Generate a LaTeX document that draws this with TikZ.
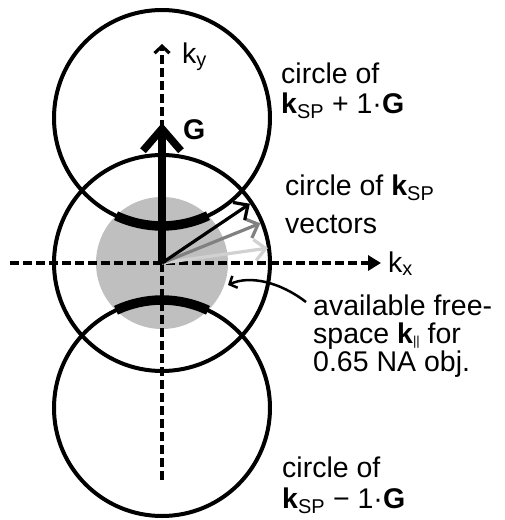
\documentclass[tikz,border=0pt]{standalone}
\usepackage{fontspec}
\setmainfont{Liberation Sans}
\usetikzlibrary{arrows.meta}
\newcommand{\parsub}{\raisebox{-2pt}{\fontsize{13}{13}\selectfont ||}}
\begin{document}
\begin{tikzpicture}[x=1pt,y=-1pt,
  circ/.style={line width=4pt},
  axis/.style={line width=4pt, dash pattern=on 9pt off 4pt},
  thickarc/.style={line width=9.5pt},
  vec/.style={line width=3.2pt,-{Straight Barb[length=11pt,width=21pt,line width=3.2pt]}},
  lbl/.style={anchor=base west, inner sep=0pt, font=\fontsize{28.5}{32}\selectfont},
]
\useasboundingbox (0,0) rectangle (504,520);
\coordinate (O) at (162,263);
\coordinate (Ct) at (162,118);
\coordinate (Cb) at (162,408);
\coordinate (Gt) at (162,123);
\coordinate (ybot) at (162,480);
\coordinate (ytop) at (162,44);
\coordinate (xl) at (10,263);
\coordinate (xr) at (381,263);
% gray disk
\fill[black!25] (O) circle[radius=66];
% circles
\draw[circ] (O) circle[radius=108];
\draw[circ] (Ct) circle[radius=108];
\draw[circ] (Cb) circle[radius=108];
% thick arcs
\draw[thickarc] (Ct) ++(64.8:108) arc[start angle=64.8, end angle=115.2, radius=108];
\draw[thickarc] (Cb) ++(244.8:108) arc[start angle=244.8, end angle=295.2, radius=108];
% axes
\draw[axis,-{Straight Barb[length=7pt,width=15pt,line width=3.2pt]}] (ybot) -- (ytop);
\draw[axis,-{Triangle[length=13pt,width=15pt]}] (xl) -- (xr);
% vectors
\path (O) ++(-8:107) coordinate (v3);
\path (O) ++(-22:106) coordinate (v2);
\path (O) ++(-34:106) coordinate (v1);
\draw[vec,black!18] (O) -- (v3);
\draw[vec,black!50] (O) -- (v2);
\draw[vec,black] (O) -- (v1);
% G arrow
\draw[line width=7.5pt,-{Straight Barb[length=22pt,width=38pt,line width=7.5pt]}] (O) -- (Gt);
% labels
\node[lbl] (ky) at (182,63) {k\textsubscript{y}};
\node[lbl] (kx) at (388,272) {k\textsubscript{x}};
\node[lbl] (Gl) at (183,139) {\textbf{G}};
\node[lbl] (a1) at (281,83) {circle of};
\node[lbl] (a2) at (281,113) {\textbf{k}\textsubscript{SP} + 1·\textbf{G}};
\node[lbl] (b1) at (285,195) {circle of \textbf{k}\textsubscript{SP}};
\node[lbl] (b2) at (285,233) {vectors};
\node[lbl] (c1) at (313,315) {available free-};
\node[lbl] (c2) at (313,343) {space \textbf{k}\parsub{} for};
\node[lbl] (c3) at (313,371) {0.65 NA obj.};
\node[lbl] (d1) at (282,477) {circle of};
\node[lbl] (d2) at (282,508) {\textbf{k}\textsubscript{SP} − 1·\textbf{G}};
% pointer
\coordinate (ps) at (306,302);
\coordinate (pe) at (228,285);
\draw[line width=2.5pt,-{Straight Barb[length=6pt,width=13pt,line width=2.5pt]}] (ps) .. controls (280,282) and (250,275) .. (pe);
\end{tikzpicture}
\end{document}
